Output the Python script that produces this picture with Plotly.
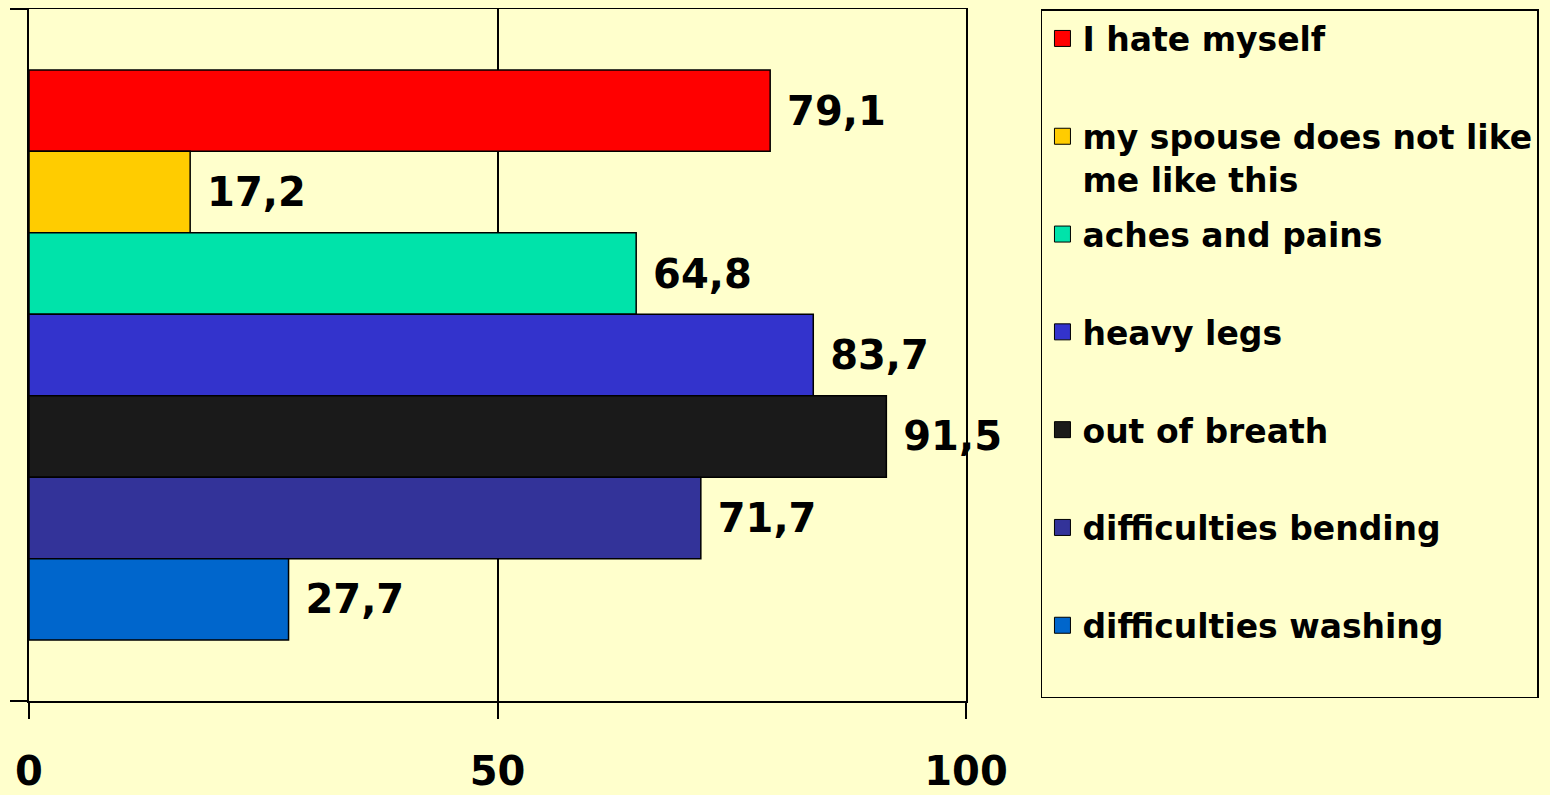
import plotly.graph_objects as go

# survey answers, percent of respondents
labels = ["I hate myself", "my spouse does not like<br>me like this", "aches and pains",
          "heavy legs", "out of breath", "difficulties bending", "difficulties washing"]
values = [79.1, 17.2, 64.8, 83.7, 91.5, 71.7, 27.7]
colors = ["#FF0000", "#FFCC00", "#00E3AA", "#3333CC", "#1A1A1A", "#333399", "#0066CC"]
x_ticks = [0, 50, 100]

BG = "#FFFFCC"
FONT = "DejaVu Sans"

fig = go.Figure()

for name, val, col in zip(labels, values, colors):
    fig.add_trace(go.Bar(
        x=[val], y=["all"], orientation="h",
        marker=dict(color=col, line=dict(color="black", width=1.5)),
        text=[val], texttemplate=" %{x:.1f}", textposition="outside",
        textfont=dict(family=FONT, size=40, color="black", weight="bold"),
        cliponaxis=False, showlegend=False,
    ))

# legend entries (bigger squares than bar legend symbols)
for name, col in zip(labels, colors):
    txt = name if "<br>" in name else name + "<br>&nbsp;"
    fig.add_trace(go.Scatter(
        x=[None], y=[None], mode="markers", name=txt, legendgroup=name,
        marker=dict(symbol="square", size=16, color=col, line=dict(color="black", width=1)),
    ))

# page body has an 8px margin, so the figure is a bit smaller than the window
fig.update_layout(
    width=1542, height=787,
    margin=dict(l=21, r=584, t=1, b=94),
    paper_bgcolor=BG, plot_bgcolor=BG,
    barmode="group", bargap=0.176, bargroupgap=0,
    separators=", ",
    font=dict(family=FONT, color="black"),
    legend=dict(
        x=1.08, xanchor="left", y=1.0, yanchor="top",
        bgcolor=BG, bordercolor="black", borderwidth=1.5,
        font=dict(family=FONT, size=33, color="black", weight="bold"),
        valign="top", tracegroupgap=9, itemsizing="trace",
    ),
)
fig.update_xaxes(
    range=[0, 100], tickvals=x_ticks, ticks="outside", ticklen=16, tickwidth=1.5, tickcolor="black",
    tickfont=dict(family=FONT, size=40, color="black", weight="bold"), ticklabelstandoff=18,
    showline=True, linecolor="black", linewidth=1.5, mirror=True, automargin=False,
    showgrid=True, gridcolor="black", gridwidth=1.5, zeroline=False, fixedrange=True,
)
fig.update_yaxes(
    type="category", autorange="reversed", showticklabels=False,
    ticks="outside", tickson="boundaries", ticklen=17, tickwidth=1.5, tickcolor="black",
    showline=True, linecolor="black", linewidth=1.5, mirror=True, automargin=False,
    showgrid=False, zeroline=False, fixedrange=True,
)

fig.write_html("out.html", post_script=f"document.body.style.background = '{BG}';")
